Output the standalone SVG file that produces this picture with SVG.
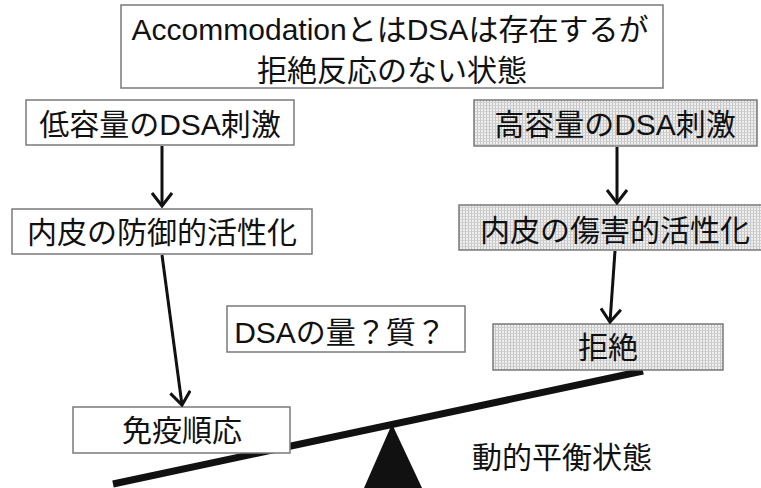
<svg xmlns="http://www.w3.org/2000/svg" width="761" height="488" viewBox="0 0 761 488">
<style>
.box{stroke:#7a7a7a;stroke-width:1.5;}
.w{fill:#ffffff;}
.g{fill:url(#dots);}
.t{font-family:"Liberation Sans","Noto Sans CJK JP",sans-serif;font-size:30px;fill:#111;text-anchor:middle;}
.c{stroke:#111;stroke-width:3;fill:none;}
</style>
<defs>
<pattern id="dots" width="3" height="3" patternUnits="userSpaceOnUse">
<rect width="3" height="3" fill="#efefef"/>
<rect width="1" height="3" fill="#c4c4c4"/>
<rect width="3" height="1" fill="#d0d0d0"/>
</pattern>
<marker id="ah" viewBox="0 0 16 22" refX="14" refY="11" markerWidth="16" markerHeight="22" markerUnits="userSpaceOnUse" orient="auto">
<path d="M1,1 L14,11 L1,21" fill="none" stroke="#111" stroke-width="3"/>
</marker>
</defs>
<rect width="761" height="488" fill="#ffffff"/>

<g id="balance">
<line x1="113" y1="484" x2="643" y2="371" stroke="#111" stroke-width="7"/>
<polygon points="392,424 364,488 422,488" fill="#111"/>
</g>

<g id="title">
<rect class="box w" x="121" y="5" width="542" height="83"/>
<text class="t" x="390" y="40">AccommodationとはDSAは存在するが</text>
<text class="t" x="392" y="81">拒絶反応のない状態</text>
</g>
<g id="low">
<rect class="box w" x="26" y="100" width="268" height="45"/>
<text class="t" x="160" y="135">低容量のDSA刺激</text>
</g>
<g id="protective">
<rect class="box w" x="12" y="209" width="300" height="45"/>
<text class="t" x="162" y="243">内皮の防御的活性化</text>
</g>
<g id="high">
<rect class="box g" x="474" y="100" width="283" height="46"/>
<text class="t" x="615" y="135">高容量のDSA刺激</text>
</g>
<g id="injury">
<rect class="box g" x="459" y="205" width="312" height="45"/>
<text class="t" x="615" y="241">内皮の傷害的活性化</text>
</g>
<g id="question">
<rect class="box w" x="227" y="306" width="238" height="46"/>
<text class="t" x="340" y="343">DSAの量？質？</text>
</g>
<g id="rejection">
<rect class="box g" x="493" y="324" width="230" height="46"/>
<text class="t" x="608" y="358">拒絶</text>
</g>
<g id="accommodation">
<rect class="box w" x="73" y="407" width="217" height="46"/>
<text class="t" x="182" y="441">免疫順応</text>
</g>
<g id="equilibrium">
<text class="t" x="562" y="468">動的平衡状態</text>
</g>

<g id="connectors">
<line class="c" x1="162" y1="146" x2="162" y2="206" marker-end="url(#ah)"/>
<line class="c" x1="162" y1="255" x2="182" y2="405" marker-end="url(#ah)"/>
<line class="c" x1="617" y1="147" x2="617" y2="203" marker-end="url(#ah)"/>
<line class="c" x1="615" y1="251" x2="610" y2="322" marker-end="url(#ah)"/>
</g>
</svg>
